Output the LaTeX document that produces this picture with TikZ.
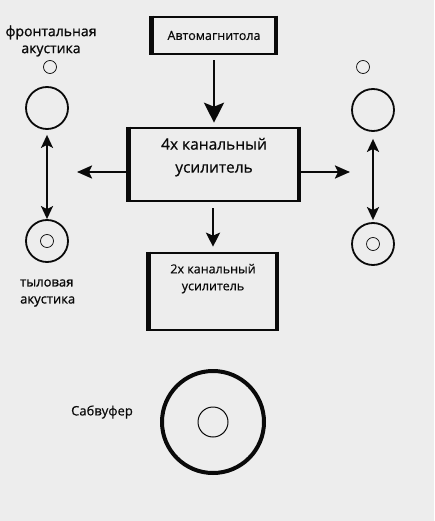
\documentclass[tikz,border=0pt]{standalone}
\usepackage{fontspec}
\setmainfont{Open Sans}[FakeBold=0.5]
\newfontfamily\lblfont{Open Sans}[FakeBold=1.1]
\usepackage{tikz}
\usetikzlibrary{positioning,arrows.meta}
\definecolor{bg1}{HTML}{EDEDED}
\definecolor{ink1}{HTML}{0A0A0A}
\begin{document}
\begin{tikzpicture}[
    x=1pt, y=-1pt,
    block/.style={draw=ink1, line width=2.6pt, inner sep=0pt,
                  align=center, text=ink1},
    txt/.style={text=ink1, align=center, inner sep=0pt},
    spk/.style={draw=ink1, circle, line width=1.8pt,
                minimum size=42pt, inner sep=0pt},
    tweet/.style={draw=ink1, circle, line width=0.7pt,
                  minimum size=13pt, inner sep=0pt},
    link/.style={draw=ink1, line width=2.4pt,
                 -{Stealth[length=15pt, width=13pt, inset=3pt]}},
    dlink/.style={draw=ink1, line width=2.2pt,
                  {Stealth[length=13pt, width=12pt, inset=3pt]}-{Stealth[length=13pt, width=12pt, inset=3pt]}},
    lbl/.style={font=\lblfont\fontsize{13}{17}\selectfont, text=ink1, inner sep=0pt},
]
\fill[bg1] (0,0) rectangle (434,521);
\useasboundingbox (0,0) rectangle (434,521);

% blocks
\node[block, minimum width=122pt, minimum height=37pt,
      font=\fontsize{12.5}{15}\selectfont] (radio) at (214,35.5)
    {Автомагнитола};
\node[block, minimum width=168pt, minimum height=73pt] (amp4) at (214,164.5) {};
\node[txt, font=\fontsize{15.5}{23}\selectfont, below=11pt of amp4.north]
    (amp4txt) {4x канальный\\усилитель};
\node[block, minimum width=126pt, minimum height=77pt] (amp2) at (213,291.5) {};
\node[txt, font=\fontsize{12.5}{17}\selectfont, below=12pt of amp2.north]
    (amp2txt) {2x канальный\\усилитель};

% thick side edges
\foreach \b in {radio,amp4,amp2} {
  \draw[ink1, line width=4.5pt] (\b.north west) -- (\b.south west);
  \draw[ink1, line width=4pt] (\b.north east) -- (\b.south east);
}

% speakers
\node[tweet] (ftl) at (50,67) {};
\node[tweet] (ftr) at (363,67) {};
\node[spk] (fl) at (47,108) {};
\node[spk] (fr) at (373,110) {};
\node[spk] (rl) at (47,241) {};
\node[spk] (rr) at (373,244) {};
\node[tweet] (rlc) at (rl) {};
\node[tweet] (rrc) at (rr) {};

% subwoofer
\node[circle, draw=ink1, line width=4pt, minimum size=102pt, inner sep=0pt]
    (sub) at (213,422) {};
\node[circle, draw=ink1, line width=1pt, minimum size=30pt, inner sep=0pt]
    (subc) at (sub) {};

% labels
\node[lbl, align=center, font=\lblfont\fontsize{14}{17}\selectfont]
    (flbl) at (51,41) {фронтальная\\акустика};
\node[lbl, align=left, anchor=west] (rlbl) at (20,293) {тыловая\\акустика};
\node[txt, font=\fontsize{13}{16}\selectfont] (sublbl) at (102,412) {Сабвуфер};

% connectors
\coordinate (lout) at (77,172);
\coordinate (rout) at (350,172);
\draw[link, -{Stealth[length=20pt, width=20pt, inset=4pt]},
      shorten <=5pt, shorten >=4pt] (radio) -- (amp4);
\draw[link] (lout -| amp4.west) -- (lout);
\draw[link] (rout -| amp4.east) -- (rout);
\draw[link, -{Stealth[length=14pt, width=14pt, inset=3pt]},
      shorten <=6pt, shorten >=5pt] (amp4.south -| amp2.north) -- (amp2.north);
\draw[dlink, shorten <=5pt] (fl) -- (rl);
\draw[dlink, shorten <=7pt, shorten >=2pt] (fr) -- (rr);
\end{tikzpicture}
\end{document}
